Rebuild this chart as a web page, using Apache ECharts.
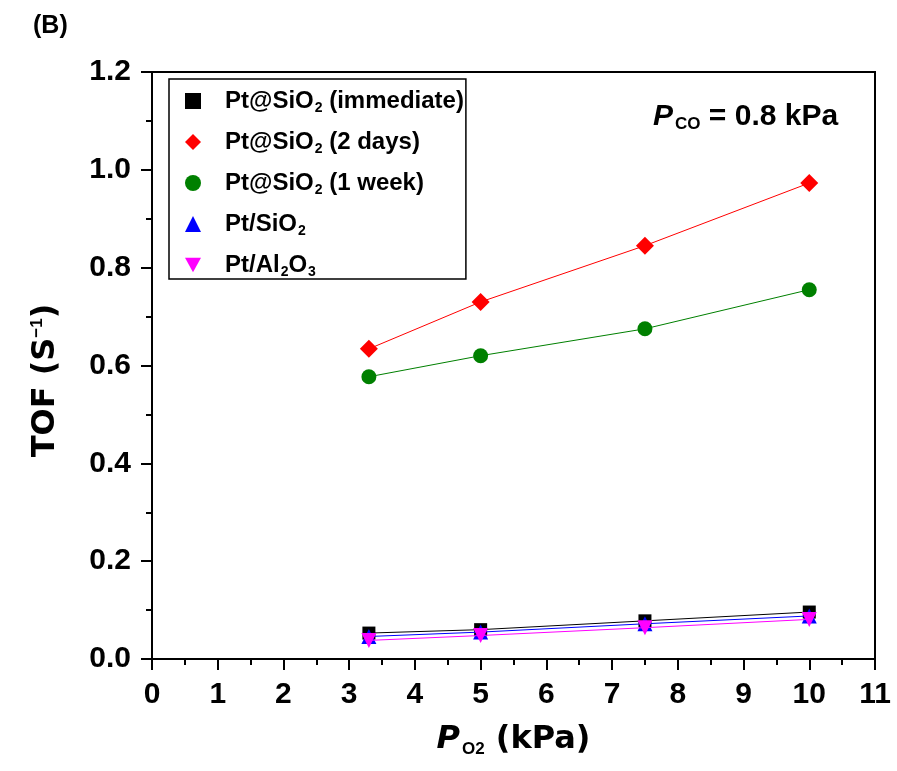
<!DOCTYPE html>
<html><head><meta charset="utf-8">
<script src="https://cdn.jsdelivr.net/npm/echarts@6/dist/echarts.min.js"></script>
<style>html,body{margin:0;padding:0;background:#fff}#c{width:897px;height:771px}</style>
</head><body><div id="c"></div>
<script>
// ---- data ----
const xValues = [3.3, 5, 7.5, 10];
const immediate = [0.053, 0.060, 0.078, 0.096];
const twoDays = [0.634, 0.730, 0.845, 0.973];
const oneWeek = [0.577, 0.620, 0.675, 0.755];
const ptSiO2 = [0.046, 0.055, 0.072, 0.088];
const ptAl2O3 = [0.038, 0.048, 0.064, 0.081];
const seriesNames = ['Pt@SiO2 (immediate)', 'Pt@SiO2 (2 days)', 'Pt@SiO2 (1 week)', 'Pt/SiO2', 'Pt/Al2O3'];
const legendRich = {
  'Pt@SiO2 (immediate)': '{a|Pt@SiO}{s|2}{a| (immediate)}',
  'Pt@SiO2 (2 days)': '{a|Pt@SiO}{s|2}{a| (2 days)}',
  'Pt@SiO2 (1 week)': '{a|Pt@SiO}{s|2}{a| (1 week)}',
  'Pt/SiO2': '{a|Pt/SiO}{s|2}',
  'Pt/Al2O3': '{a|Pt/Al}{s|2}{a|O}{s|3}'
};
const xTicks = {min: 0, max: 11, interval: 1};
const yTicks = {min: 0, max: 1.2, interval: 0.2};

const FONT = "'Liberation Sans', Arial, sans-serif";
const TFONT = "'DejaVu Sans', 'Liberation Sans', sans-serif";
const INV_TRI = 'path://M0,0L10,0L5,9Z';
const colors = ['#000000', '#ff0000', '#008000', '#0000ff', '#ff00ff'];
const symbols = ['rect', 'diamond', 'circle', 'triangle', INV_TRI];
const sizes = [13, 18, 15, 15, 15];
const legendSizes = [13, 17, 15, 15, 15];
const values = [immediate, twoDays, oneWeek, ptSiO2, ptAl2O3];

const chart = echarts.init(document.getElementById('c'), null, {renderer: 'canvas'});

const series = seriesNames.map((n, i) => ({
  name: n,
  type: 'line',
  data: xValues.map((x, j) => [x, values[i][j]]),
  symbol: symbols[i],
  symbolSize: sizes[i],
  showSymbol: true,
  color: colors[i],
  itemStyle: {color: colors[i]},
  lineStyle: {color: colors[i], width: 1},
  z: 2 + i,
  animation: false
}));

const option = {
  animation: false,
  backgroundColor: '#fff',
  textStyle: {fontFamily: FONT},
  grid: {left: 152, right: 22, top: 72, bottom: 112, show: true, borderColor: '#000', borderWidth: 2, containLabel: false},
  xAxis: {
    type: 'value', min: xTicks.min, max: xTicks.max, interval: xTicks.interval,
    axisLine: {show: true, onZero: false, lineStyle: {color: '#000', width: 2}},
    axisTick: {show: true, inside: false, length: 11, lineStyle: {color: '#000', width: 2}},
    minorTick: {show: true, splitNumber: 2, length: 6, lineStyle: {color: '#000', width: 2}},
    splitLine: {show: false},
    axisLabel: {margin: 21, color: '#000', fontSize: 30, fontWeight: 'bold', fontFamily: FONT},
    name: '{i|P}{s|O2}{a| (kPa)}',
    nameLocation: 'middle', nameGap: 63,
    nameTextStyle: {
      rich: {
        i: {fontSize: 32, fontWeight: 'bold', fontStyle: 'italic', fontFamily: TFONT, color: '#000', lineHeight: 36},
        s: {fontSize: 17, fontWeight: 'bold', fontFamily: FONT, color: '#000', lineHeight: 36, padding: [18, 0, 0, 2]},
        a: {fontSize: 32, fontWeight: 'bold', fontFamily: TFONT, color: '#000', lineHeight: 36}
      }
    }
  },
  yAxis: {
    type: 'value', min: yTicks.min, max: yTicks.max, interval: yTicks.interval,
    axisLine: {show: true, onZero: false, lineStyle: {color: '#000', width: 2}},
    axisTick: {show: true, inside: false, length: 11, lineStyle: {color: '#000', width: 2}},
    minorTick: {show: true, splitNumber: 2, length: 6, lineStyle: {color: '#000', width: 2}},
    splitLine: {show: false},
    axisLabel: {margin: 21, color: '#000', fontSize: 30, fontWeight: 'bold', fontFamily: FONT,
      formatter: v => v.toFixed(1)},
    name: '{a|TOF (S}{p|−1}{a|)}',
    nameLocation: 'middle', nameGap: 88,
    nameTextStyle: {
      padding: [0, 30, 0, 0],
      rich: {
        a: {fontSize: 32, fontWeight: 'bold', fontFamily: TFONT, color: '#000', lineHeight: 36},
        p: {fontSize: 17, fontWeight: 'bold', fontFamily: FONT, color: '#000', lineHeight: 36, padding: [0, 0, 17, 0]}
      }
    }
  },
  legend: {
    orient: 'vertical', left: 169, top: 79,
    padding: [8, 2, 0, 16],
    itemGap: 13, itemWidth: 16, itemHeight: 16,
    borderColor: '#000', borderWidth: 1.5,
    data: seriesNames.map((n, i) => ({name: n, icon: symbols[i], itemStyle: {color: colors[i]}})),
    formatter: n => legendRich[n],
    textStyle: {
      padding: [0, 0, 0, 19],
      rich: {
        a: {fontSize: 24, fontWeight: 'bold', fontFamily: FONT, color: '#000', lineHeight: 26},
        s: {fontSize: 14, fontWeight: 'bold', fontFamily: FONT, color: '#000', lineHeight: 26, padding: [14, 0, 0, 1]}
      }
    }
  },
  graphic: [
    {type: 'text', left: 33, top: 14, style: {text: '(B)', font: "bold 25px " + FONT, fill: '#000'}},
    {type: 'text', left: 653, top: 100, style: {
      text: '{i|P}{s|CO}{a| = 0.8 kPa}',
      rich: {
        i: {fontSize: 30, fontWeight: 'bold', fontStyle: 'italic', fontFamily: FONT, fill: '#000', lineHeight: 30},
        s: {fontSize: 17, fontWeight: 'bold', fontFamily: FONT, fill: '#000', lineHeight: 30, padding: [16, 0, 0, 2]},
        a: {fontSize: 30, fontWeight: 'bold', fontFamily: FONT, fill: '#000', lineHeight: 30}
      }
    }}
  ],
  series: series
};
chart.setOption(option);
</script>
</body></html>
